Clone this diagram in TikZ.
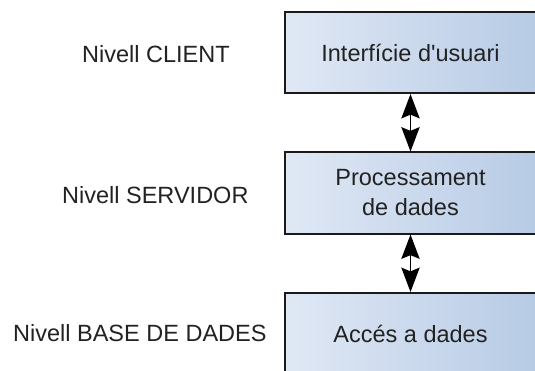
\documentclass[tikz,border=0pt]{standalone}
\usepackage{fontspec}
\setmainfont{Liberation Sans}
\usetikzlibrary{arrows.meta}
\definecolor{boxleft}{HTML}{E0E8F5}
\definecolor{boxright}{HTML}{B7CBE5}
\definecolor{boxline}{HTML}{1A1A1A}
\definecolor{txt}{HTML}{222222}
\begin{document}
\begin{tikzpicture}[
  layerbox/.style={draw=boxline, line width=2pt, left color=boxleft, right color=boxright,
    minimum width=252pt, minimum height=81pt, align=center, text=txt,
    font=\fontsize{23.5}{30}\selectfont, inner sep=0pt},
  levellabel/.style={anchor=base west, text=txt, font=\fontsize{23.5}{28}\selectfont, inner sep=0pt},
  biarrow/.style={line width=1.5pt, draw=black, {Stealth[scale=2.5,inset=1.5pt]}-{Stealth[scale=2.5,inset=1.5pt]}}
]
\useasboundingbox (0pt,0pt) rectangle (535pt,370pt);
\node[layerbox] (ui) at (410.5pt,317.5pt) {Interfície d\textquotesingle usuari};
\node[layerbox] (proc) at (410.5pt,177pt) {Processament\\de dades};
\node[layerbox] (db) at (410.5pt,36.5pt) {Accés a dades};
\node[levellabel] (lclient) at (82pt,307.5pt) {Nivell CLIENT};
\node[levellabel] (lserv) at (62pt,167pt) {Nivell SERVIDOR};
\node[levellabel] (lbase) at (13pt,28.5pt) {Nivell BASE DE DADES};
\draw[biarrow] (ui.south) -- (proc.north);
\draw[biarrow] (proc.south) -- (db.north);
\end{tikzpicture}
\end{document}
